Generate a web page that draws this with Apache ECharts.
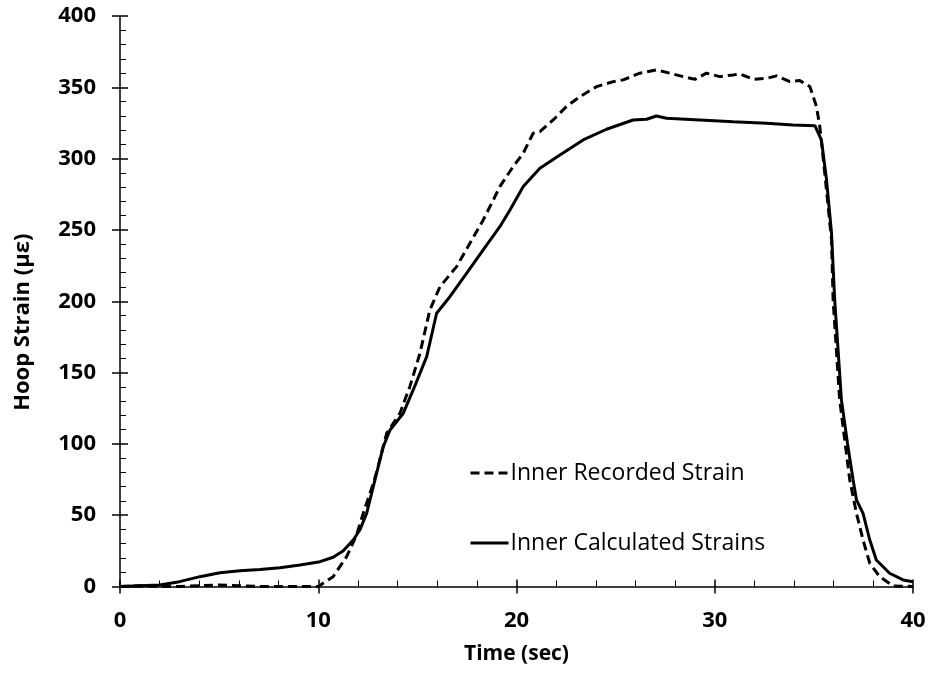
<!DOCTYPE html>
<html>
<head>
<meta charset="utf-8">
<script src="https://cdn.jsdelivr.net/npm/echarts@6/dist/echarts.min.js"></script>
<style>html,body{margin:0;padding:0;background:#fff;}#chart{width:930px;height:673px;}</style>
</head>
<body>
<div id="chart"></div>
<script>
// Inner Recorded Strain (dashed)
var recTime = [0,1,2,3,4,5,6,7,8,9,10,10.75,11.43,11.93,12.27,12.77,12.94,13.45,14.12,14.62,15.13,15.63,16.14,16.98,17.65,18.32,18.83,19.16,19.83,20.34,20.84,21.18,21.85,22.52,23.2,24.04,24.88,25.38,26.22,27.06,27.74,28.41,29.0,29.58,30.26,30.93,31.27,31.94,32.61,33.12,33.79,34.29,34.8,35.13,35.3,35.55,35.89,35.97,36.3,36.81,37.15,37.48,37.82,38.32,39,40];
var recValue = [0,0.5,0,0,0.5,1,0.5,0,0,0,0,6.9,20.9,36.1,51.3,72,80,107.4,121.5,140.1,163.5,193.9,210.2,224.3,240.7,257,271,280.4,294.4,303.8,317.8,318.9,327.1,336.5,343.5,350.5,354,355.2,359.9,362.2,359.9,357.5,355.6,359.9,357.5,358.7,359.4,355.6,356.3,358,354,354.7,350.5,336.5,322.4,289.8,243,201,131,74.7,51.3,32.6,16.3,6.9,0.4,0];
// Inner Calculated Strains (solid)
var calcTime = [0,1,2,3,4.03,5.04,6.05,7.06,8.07,9.08,10.09,10.75,11.25,11.76,12.1,12.44,12.86,13.28,13.62,14.29,14.79,15.47,15.97,16.64,17.48,18.32,19.16,19.67,20.34,21.18,22.19,23.36,24.54,25.88,26.56,27.06,27.57,29.25,30.93,32.61,33.95,35.05,35.38,35.64,35.89,36.05,36.39,36.7,36.98,37.15,37.48,37.82,38.15,38.82,39.5,40];
var calcValue = [0,0.5,1,3.4,6.9,9.7,11.1,12,13.2,15.1,17.4,20.5,24.9,32.6,39.6,51.3,74.7,98,109.7,121.5,137.8,161.2,191.6,203.2,219.6,236,252.3,264,280.4,293.3,302.6,313.1,320.6,327.1,327.6,329.9,328.3,327.1,325.9,324.8,323.6,323.1,313.1,285,247.7,200.9,130.8,100,74.7,60.7,51.3,32.6,18.6,9.3,4.6,3.4];
var xTicks = [0,10,20,30,40];
var yTicks = [0,50,100,150,200,250,300,350,400];

function pairs(t, v){ return t.map(function(x,i){ return [x, v[i]]; }); }

var chart = echarts.init(document.getElementById('chart'), null, {renderer:'canvas'});
var FONT = '"Open Sans", Lato, sans-serif';
chart.setOption({
  animation:false,
  backgroundColor:'#fff',
  grid:{left:120, right:17, top:16, bottom:86.5, containLabel:false},
  legend:{
    orient:'vertical', left:469, top:461, padding:0,
    itemWidth:38, itemHeight:14, itemGap:46,
    itemStyle:{opacity:0},
    lineStyle:{width:3},
    textStyle:{fontFamily:FONT, fontSize:23, color:'#000', lineHeight:24, padding:[0,0,0,-3]},
    data:['Inner Recorded Strain','Inner Calculated Strains']
  },
  xAxis:[{
    type:'value', min:xTicks[0], max:xTicks[xTicks.length-1], interval:10,
    name:'Time (sec)', nameLocation:'middle', nameGap:57,
    nameTextStyle:{fontFamily:FONT, fontWeight:'bold', fontSize:21, color:'#000'},
    axisLine:{show:true, onZero:false, lineStyle:{color:'#000', width:1.5}},
    axisTick:{show:true, inside:true, length:7, lineStyle:{color:'#000', width:1.5}},
    minorTick:{show:true, splitNumber:5, length:6, lineStyle:{color:'#000', width:1}},
    axisLabel:{margin:23, fontFamily:FONT, fontWeight:'bold', fontSize:22, color:'#000'},
    splitLine:{show:false}, minorSplitLine:{show:false}
  },{
    type:'value', min:0, max:40, interval:10, position:'bottom',
    axisLine:{show:false}, axisLabel:{show:false},
    axisTick:{show:true, inside:false, length:7, lineStyle:{color:'#000', width:1.5}},
    splitLine:{show:false}
  }],
  yAxis:[{
    type:'value', min:yTicks[0], max:yTicks[yTicks.length-1], interval:50,
    name:'Hoop Strain (με)', nameLocation:'middle', nameGap:86, nameRotate:90,
    nameTextStyle:{fontFamily:FONT, fontWeight:'bold', fontSize:22, color:'#000', padding:[0,42,0,0]},
    axisLine:{show:true, onZero:false, lineStyle:{color:'#000', width:1.5}},
    axisTick:{show:true, inside:true, length:8, lineStyle:{color:'#000', width:1.5}},
    minorTick:{show:true, splitNumber:5, length:6, lineStyle:{color:'#000', width:1}},
    axisLabel:{margin:24, fontFamily:FONT, fontWeight:'bold', fontSize:22, color:'#000'},
    splitLine:{show:false}, minorSplitLine:{show:false}
  },{
    type:'value', min:0, max:400, interval:50, position:'left',
    axisLine:{show:false}, axisLabel:{show:false},
    axisTick:{show:true, inside:false, length:8, lineStyle:{color:'#000', width:1.5}},
    splitLine:{show:false}
  }],
  series:[{
    name:'Inner Recorded Strain', type:'line', xAxisIndex:0, yAxisIndex:0,
    symbol:'none', smooth:false,
    lineStyle:{color:'#000', width:3, type:[9,5]},
    itemStyle:{color:'#000'},
    data:pairs(recTime, recValue)
  },{
    name:'Inner Calculated Strains', type:'line', xAxisIndex:0, yAxisIndex:0,
    symbol:'none', smooth:false,
    lineStyle:{color:'#000', width:3, type:'solid'},
    itemStyle:{color:'#000'},
    data:pairs(calcTime, calcValue)
  }]
});
</script>
</body>
</html>
